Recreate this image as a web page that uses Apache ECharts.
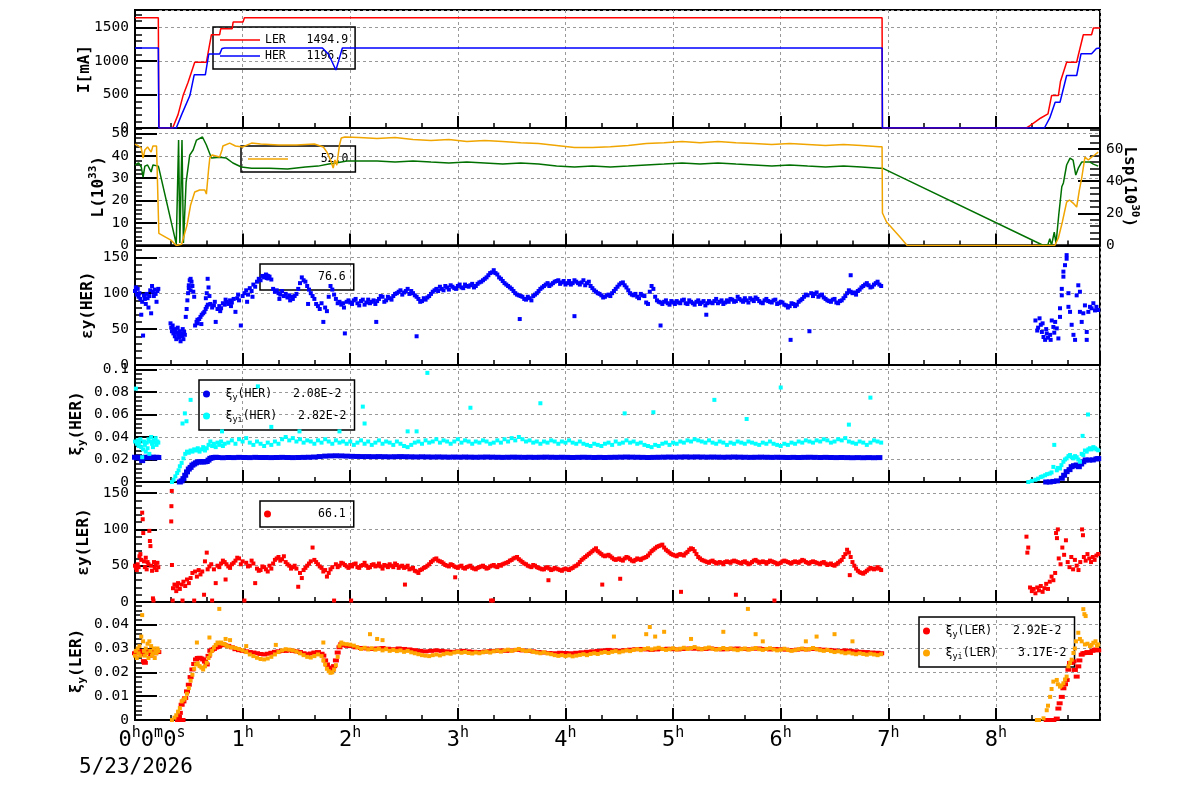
<!DOCTYPE html>
<html>
<head>
<meta charset="utf-8">
<script src="https://cdn.jsdelivr.net/npm/echarts/dist/echarts.min.js"></script>
<style>
html, body { margin: 0; padding: 0; background: #fff; }
#main { width: 1200px; height: 798px; }
</style>
</head>
<body>
<div id="main"></div>
<script>
// time in minutes since 0h0m0s
var dateLabel = '5/23/2026';
var hourTicks = [0, 60, 120, 180, 240, 300, 360, 420, 480];

// beam currents [mA]
var curLER = [[0,1650],[13,1650],[13.2,600],[13.4,0],[21,0],[24,200],[26.8,485],[29.6,685],[33.3,985],[39.8,985],[40.5,1085],[42.6,1395],[47.2,1395],[47.8,1485],[54.2,1485],[54.7,1585],[60.2,1585],[61,1650],[416.5,1650],[416.7,0],[497,0],[499,35],[505,150],[509,210],[511,485],[514.8,485],[516,700],[519.4,985],[525,985],[526,1100],[528.7,1395],[533.3,1395],[534.3,1495],[538,1495]];
var curHER = [[0,1197],[13,1197],[13.3,0],[23,0],[26,200],[30.6,485],[33,795],[39.2,795],[41.1,1105],[47.2,1105],[48.5,1190],[50,1197],[104.5,1197],[108,1100],[112,868],[113.5,1000],[115.6,1197],[416.5,1197],[416.7,0],[507,0],[510,150],[513,385],[515.7,385],[519.4,785],[525,785],[527.4,1110],[533.3,1110],[536,1190],[538,1196.5]];

// luminosity L [1e33] and specific luminosity Lsp [1e30]
var lumi = [[0,35.9],[2,36.8],[3.5,35],[4.5,30.5],[5.5,35.4],[7,35.9],[9,32.8],[10,35.9],[13,35.4],[13.3,34.5],[23,0.7],[24.3,47],[25,1.1],[26.2,47],[27,1.1],[28.5,28.3],[30.5,40.3],[32.4,42.6],[34.3,47],[37.6,48.4],[39.8,44.8],[42.6,39],[47.2,39.4],[50.9,39],[54.6,36.8],[59.3,35],[65,34.5],[75,34.5],[85,34.1],[95,35],[102,35.4],[108,36.3],[112,36.8],[118,37.7],[125,37.7],[135,37.7],[145,37.2],[155,37.7],[165,37.2],[175,36.8],[185,37.2],[195,36.8],[205,36.3],[215,36.8],[225,36.3],[235,35.4],[245,35],[255,35.4],[265,35],[275,35.4],[285,35.9],[295,36.3],[305,36.8],[315,36.3],[325,36.8],[335,36.3],[345,35.9],[355,35.4],[365,35.9],[375,35.4],[385,35],[395,35.4],[405,35],[415,34.5],[416.7,34.5],[506.5,0],[509,0.5],[510,3],[511,0.2],[512.5,6],[513.5,1],[515,13.6],[516.7,26.2],[517.6,27.9],[519.4,35.9],[521.3,39],[523,38.1],[524.5,31.4],[525.9,34.5],[527.8,37.2],[529.6,37.2],[532.4,37.2],[534.3,36.3],[537,35.4]];
var lumiSp = [[0,63.1],[2,61.9],[3.5,60.6],[4.5,54.4],[5.5,59.4],[7,61.3],[9,58.1],[10,61.9],[12,61.9],[13,61.3],[13.3,7.6],[20,3.4],[23,0],[26,0.8],[27,1.6],[29,12.7],[31,25.2],[33.3,33.3],[36,34.5],[38.9,34.5],[39.8,32],[41,47],[41.7,54.4],[43,56.3],[47.2,55],[48.5,59.4],[49,61.9],[52.8,63.7],[56,61.9],[60,61.3],[65,63.7],[70,63.1],[80,62.5],[90,62.5],[100,63.1],[105,61.3],[107,58.1],[109,53.2],[110.5,48.2],[111.5,53.2],[112.5,50],[114,62.5],[115,66.9],[117,67.5],[125,67.2],[135,66.6],[145,67.2],[155,66],[165,65.3],[175,65.9],[185,64.7],[195,65.3],[205,64.7],[215,64],[225,63.4],[235,62.2],[245,61],[255,60.9],[265,61.5],[275,62.2],[285,63.4],[295,64],[305,64.7],[315,64],[325,64.7],[335,64],[345,63.4],[355,62.8],[365,63.4],[375,62.8],[385,62.2],[395,62.8],[405,62.2],[415,61.5],[416.5,61.5],[416.7,20.2],[419,14.6],[422,10.9],[426,5.9],[430.5,0],[512.8,0],[514.8,4.7],[517,14.6],[519.4,27],[521,28.3],[523,26.4],[525,23.9],[526.5,34.5],[527.8,42],[529.6,55],[531.5,53.2],[533.3,55],[535,56.3],[537,58.1]];

// vertical emittance HER
var emitHER = [[0,103],[0.5,108],[1,98],[1.5,106],[2,95],[2.5,100],[3,92],[3.5,70],[4,88],[4.5,41],[5,97],[5.5,92],[6,85],[6.5,99],[7,93],[7.5,80],[8,96],[8.5,104],[9,72],[9.5,110],[10,102],[10.5,96],[11,105],[11.5,99],[12,88],[12.5,103],[13,106],
[19.8,58],[20.2,52],[20.6,47],[21,55],[21.4,44],[21.8,50],[22.2,40],[22.6,48],[23,36],[23.4,45],[23.8,52],[24.2,42],[24.6,38],[25,47],[25.4,33],[25.8,44],[26.2,40],[26.6,50],[27,36],[27.4,46],[27.8,42],
[28.3,67],[28.8,78],[29.2,90],[29.6,100],[30,111],[30.5,118],[31,120],[31.5,116],[32,110],[32.5,102],[33,95],[30,107],[31,104],
[33.5,55],[34.3,60],[35,58],[35.8,64],[36.5,67],[37.2,70],[38,72],[38.7,74],[39.4,78],[40,81],[40.6,84],[39.5,93],[40,100],[40.5,120],[41,108],[41.5,96],[37,57],[34.8,63],
[42,85],[43,80],[44,83],[45,60],[46,78],[47,82],[48,79],[49,86],[50,84],[51,88],[52,85],[53,90],[54,87],[55,92],[56,74],[57,93],[58,90],[59,55],[60,96],[44.5,88],[47.5,75],[50.5,91],[53.5,82],[57.5,98],
[61,100],[62,104],[63,98],[64,107],[65,103],[66,112],[67,109],[68,116],[69,120],[70,118],[62.5,88],[65.5,95],
[71,124],[72,122],[73,126],[74,121],[75,123],[76,119],
[77,106],[78,102],[79,104],[80,100],[81,98],[82,103],[83,96],[84,99],[85,94],[86,97],[87,95],[88,92],[89,96],[90,99],[80.5,92],[86.5,90],
[91,106],[92,114],[93,122],[94,118],[95,116],[96,110],[97,105],[98,100],[99,96],[100,92],[96.5,85],
[101,85],[102,82],[103,78],[104,86],[105,60],[106,80],[107,75],
[108,95],[109,110],[110,105],[111,98],[112,92],[113,86],[114,88],[115,84],
[116,86],[117,44],[118,88],[119,90],[120,87],[116.5,80],
[122,90],[124,86],[126,89],[128,84],[130,91],[132,88],[134,85],[134.5,60],
[136,92],[138,95],[140,90],[142,93],[144,96],
[146,100],[148,104],[150,101],[152,106],[154,103],
[156,97],[157,40],[158,92],[160,89],[162,91],[164,96],
[166,102],[168,106],[170,109],[172,104],[174,108],[176,111],[178,107],[180,110],
[182,108],[184,112],[186,109],[188,113],[190,110],[192,115],[194,118],
[196,122],[198,128],[200,132],[202,126],[204,120],
[206,114],[208,110],[210,106],[212,100],[214,97],[214.5,64],
[216,95],[218,91],[220,93],[222,96],[224,100],
[226,106],[228,110],[230,114],[232,112],[234,116],
[236,118],[238,115],[240,112],[242,117],[244,114],[245,68],[246,116],[248,112],[250,118],[252,114],[254,110],
[256,104],[258,100],[260,97],[262,95],[264,98],
[266,100],[268,106],[270,112],[272,115],[274,108],
[276,100],[278,97],[280,95],[282,99],[284,96],
[285,87],[286,85],[287,102],[288,110],[289,106],[290,95],
[292,88],[293,55],[294,85],[296,90],[298,84],[300,87],[302,89],[304,86],[306,91],[308,85],[310,88],[312,84],[314,90],[316,87],[318,83],[318.5,70],[320,89],[322,86],[324,92],[326,88],[328,85],[330,90],
[332,92],[334,88],[336,95],[338,90],[340,93],[342,87],[344,91],[346,94],[348,89],[350,86],[352,92],[354,88],[356,90],[358,85],[360,88],
[362,84],[364,80],[365.5,35],[366,86],[368,82],[370,88],
[372,92],[374,98],[376,47],[377,100],[378,96],[380,101],[382,97],[384,94],
[386,90],[388,88],[390,92],[392,86],[394,90],
[396,96],[398,104],[399,125],[400,100],[402,98],[404,105],
[406,110],[408,114],[410,108],[412,112],[414,116],[416,110],
[121,85],[123,92],[125,83],[127,91],[129,87],[131,86],[133,90],[135,89],[137,96],[139,88],[141,95],[143,91],[145,99],[147,102],[149,98],[151,103],[153,99],[155,100],[157,95],[159,88],[161,93],[163,94],[165,99],[167,104],[169,103],[171,106],[173,110],[175,105],[177,109],[179,106],[181,112],[183,107],[185,110],[187,111],[189,108],[191,113],[193,116],[195,120],[197,125],[199,129],[201,128],[203,122],[205,117],[207,112],[209,108],[211,103],[213,98],[215,96],[217,92],[219,95],[221,90],[223,98],[225,103],[227,108],[229,112],[231,110],[233,114],[235,117],[237,113],[239,117],[241,114],[243,112],[245,118],[247,114],[249,115],[251,111],[253,116],[255,107],[257,102],[259,99],[261,94],[263,97],[265,96],[267,103],[269,109],[271,114],[273,111],[275,104],[277,98],[279,99],[281,93],[283,97],[291,90],[293,87],[295,88],[297,86],[299,89],[301,85],[303,87],[305,90],[307,86],[309,90],[311,86],[313,88],[315,85],[317,89],[319,86],[321,87],[323,89],[325,86],[327,90],[329,87],[331,88],[333,91],[335,89],[337,92],[339,88],[341,90],[343,93],[345,89],[347,92],[349,87],[351,90],[353,89],[355,87],[357,91],[359,86],[361,87],[363,83],[365,82],[367,85],[369,84],[371,90],[373,95],[375,97],[379,99],[381,95],[383,98],[385,92],[387,89],[389,91],[391,87],[393,89],[395,93],[397,100],[399,102],[401,101],[403,103],[405,108],[407,112],[409,111],[411,109],[413,114],[415,112],
[502,62],[503,48],[503.5,52],[504.3,65],[505,56],[505.6,46],[506,58],[506.5,39],[507.4,35],[508,50],[508.3,44],[509,38],[510.2,42],[510.5,35],[511.1,62],[512,53],[512.5,45],[513,60],[513.9,51],[514.8,37],[515.7,67],[515.7,79],[516.7,97],[516.7,106],[517.6,123],[517.6,130],[518.5,139],[519.4,148],[519.4,153],[520.4,100],[520.4,81],[521.3,74],[522.2,56],[523.2,42],[524.1,35],[525,97],[525.9,111],[526.8,102],[526.8,74],[527.8,60],[528.7,72],[529.6,83],[530.6,46],[530.6,35],[531.5,74],[532.4,81],[533.3,79],[534.3,86],[535.2,76],[536,81],[537,76.6]];

// beam-beam parameter HER
var xiHER = [[0,0.022],[1,0.0215],[2,0.022],[3,0.0212],[4,0.019],[5,0.0218],[6,0.022],[7,0.0215],[8,0.022],[9,0.0218],[10,0.022],[11,0.0215],[12,0.022],[13,0.0218],
[25,0],[26,0.001],[27,0.003],[28,0.006],[29,0.009],[30,0.0115],[31,0.013],[32,0.015],[33,0.016],[34,0.017],[35,0.0178],[36,0.018],[37,0.018],[38,0.0178],[39,0.018],[40,0.0182],[41,0.0195],[42,0.021],[43,0.0215],[44,0.0218],[45,0.022],
[46,0.0218],[49,0.0216],[52,0.0218],[55,0.0217],[58,0.0219],[61,0.0218],[64,0.0217],[67,0.0219],[70,0.0218],[73,0.0218],[76,0.0217],[79,0.0218],[82,0.0219],[85,0.0218],[88,0.0217],[91,0.0218],[94,0.0219],[97,0.022],[100,0.0222],[103,0.0226],[106,0.023],[109,0.0232],[112,0.0233],[115,0.0232],[118,0.023],[121,0.0228],[124,0.0227],[127,0.0226],[130,0.0226],[133,0.0225],[136,0.0226],[139,0.0225],[142,0.0224],[145,0.0225],[148,0.0226],[151,0.0225],[154,0.0224],[157,0.0223],[160,0.0224],[163,0.0223],[166,0.0222],[169,0.0223],[172,0.0222],[175,0.0221],[178,0.0222],[181,0.0221],[184,0.0222],[187,0.0221],[190,0.022],[193,0.0221],[196,0.0222],[199,0.0221],[202,0.022],[205,0.0219],[208,0.022],[211,0.0221],[214,0.022],[217,0.0219],[220,0.022],[223,0.0219],[226,0.022],[229,0.0221],[232,0.022],[235,0.0219],[238,0.022],[241,0.0219],[244,0.0218],[247,0.0219],[250,0.022],[253,0.0219],[256,0.0218],[259,0.0219],[262,0.0218],[265,0.0219],[268,0.022],[271,0.0221],[274,0.0222],[277,0.0221],[280,0.022],[283,0.0219],[286,0.0218],[289,0.0219],[292,0.022],[295,0.0221],[298,0.0222],[301,0.0221],[304,0.0222],[307,0.0223],[310,0.0222],[313,0.0223],[316,0.0222],[319,0.0221],[322,0.0222],[325,0.0221],[328,0.022],[331,0.0221],[334,0.0222],[337,0.0221],[340,0.022],[343,0.0219],[346,0.022],[349,0.0221],[352,0.022],[355,0.0219],[358,0.022],[361,0.0219],[364,0.0218],[367,0.0219],[370,0.0218],[373,0.0219],[376,0.022],[379,0.0219],[382,0.0218],[385,0.0219],[388,0.0218],[391,0.0217],[394,0.0218],[397,0.0217],[400,0.0216],[403,0.0217],[406,0.0216],[409,0.0217],[412,0.0216],[415,0.0217],
[508,0],[510,0],[512,0.0005],[514,0.001],[516.7,0.0033],[518,0.006],[519.4,0.0092],[521,0.011],[522.2,0.0136],[523.5,0.0145],[525,0.0151],[526.2,0.0136],[527.5,0.016],[528.7,0.018],[530,0.0196],[532,0.0195],[534,0.0196],[536,0.0205],[537,0.0208]];
var xiiHER = [[0,0.036],[0.5,0.083],[1,0.034],[1.5,0.037],[2,0.032],[2.5,0.035],[3,0.038],[3.5,0.031],[4,0.022],[4.5,0.029],[5,0.036],[5.5,0.033],[6,0.027],[6.5,0.035],[7,0.03],[7.5,0.038],[8,0.025],[8.5,0.036],[9,0.04],[9.5,0.034],[10,0.031],[10.5,0.037],[11,0.035],[11.5,0.039],[12,0.033],[12.5,0.036],[13,0.035],
[20.6,0],[21.5,0.002],[22.5,0.005],[23.5,0.008],[24.3,0.0104],[25,0.014],[26,0.017],[27,0.021],[28,0.025],[29,0.027],[30,0.026],[31,0.028],[32,0.027],[33,0.029],[34,0.028],[35,0.03],[36,0.027],[37,0.029],[38,0.031],[39,0.028],[40,0.03],[41,0.033],[42,0.036],[43,0.032],[44,0.034],[45,0.031],[46,0.035],[47,0.033],[48,0.036],[49,0.032],[50,0.034],
[26.5,0.052],[27.8,0.061],[31,0.073],[28.7,0.054],[48.5,0.045],[68.5,0.085],[76,0.049],[91.7,0.045],[114,0.045],[127,0.067],[128,0.052],[163,0.097],[152,0.045],[157,0.045],[226,0.07],[273,0.061],[289,0.062],[323,0.073],[360,0.084],[410,0.075],[187,0.066],[341,0.056],[398,0.051],
[52,0.035],[54,0.037],[56,0.034],[58,0.038],[60,0.036],[62,0.039],[64,0.035],[66,0.033],[68,0.036],[70,0.034],[72,0.032],[74,0.035],[76,0.033],[78,0.036],[80,0.034],[82,0.038],[84,0.04],[86,0.037],[88,0.039],[90,0.036],[92,0.038],[94,0.035],[96,0.037],[98,0.036],[100,0.034],[102,0.037],[104,0.035],[106,0.038],[108,0.036],[110,0.034],[112,0.037],[114,0.035],[116,0.036],[118,0.034],[120,0.036],[122,0.033],[124,0.035],[126,0.037],[128,0.034],[130,0.036],[132,0.033],[134,0.035],[136,0.037],[138,0.034],[140,0.036],[142,0.035],[144,0.033],[146,0.036],[148,0.034],[150,0.032],[152,0.031],[154,0.033],[156,0.035],[158,0.036],[160,0.034],[162,0.037],[164,0.035],[166,0.036],[168,0.038],[170,0.035],[172,0.037],[174,0.036],[176,0.034],[178,0.036],[180,0.038],[182,0.035],[184,0.037],[186,0.036],[188,0.034],[190,0.036],[192,0.035],[194,0.037],[196,0.036],[198,0.034],[200,0.035],[202,0.037],[204,0.035],[206,0.038],[208,0.036],[210,0.039],[212,0.037],[214,0.04],[216,0.038],[218,0.036],[220,0.037],[222,0.035],[224,0.036],[226,0.034],[228,0.036],[230,0.035],[232,0.037],[234,0.036],[236,0.034],[238,0.036],[240,0.035],[242,0.037],[244,0.035],[246,0.034],[248,0.036],[250,0.034],[252,0.033],[254,0.032],[256,0.034],[258,0.033],[260,0.032],[262,0.034],[264,0.035],[266,0.033],[268,0.036],[270,0.034],[272,0.035],[274,0.037],[276,0.035],[278,0.036],[280,0.034],[282,0.035],[284,0.033],[286,0.032],[288,0.031],[290,0.033],[292,0.032],[294,0.034],[296,0.035],[298,0.033],[300,0.035],[302,0.034],[304,0.036],[306,0.035],[308,0.037],[310,0.036],[312,0.038],[314,0.037],[316,0.036],[318,0.035],[320,0.037],[322,0.035],[324,0.034],[326,0.036],[328,0.035],[330,0.033],[332,0.035],[334,0.034],[336,0.036],[338,0.035],[340,0.034],[342,0.036],[344,0.035],[346,0.034],[348,0.033],[350,0.035],[352,0.034],[354,0.036],[356,0.034],[358,0.033],[360,0.032],[362,0.034],[364,0.033],[366,0.035],[368,0.034],[370,0.036],[372,0.035],[374,0.037],[376,0.036],[378,0.035],[380,0.037],[382,0.036],[384,0.038],[386,0.037],[388,0.035],[390,0.036],[392,0.038],[394,0.037],[396,0.039],[398,0.036],[400,0.035],[402,0.034],[404,0.036],[406,0.035],[408,0.033],[410,0.035],[412,0.037],[414,0.036],[416,0.035],
[498,0],[500,0.001],[502,0.002],[503.5,0.003],[505,0.0045],[506,0.005],[507.4,0.006],[508.5,0.007],[510,0.0075],[511,0.0085],[512,0.0134],[512.5,0.033],[513.9,0.0104],[514.5,0.0125],[515.7,0.012],[516.5,0.015],[517.6,0.018],[518.5,0.02],[519.4,0.021],[520.4,0.023],[521.3,0.024],[522.2,0.022],[523.2,0.021],[524.1,0.023],[525,0.022],[525.9,0.02],[526.8,0.018],[527.8,0.025],[528.3,0.041],[528.7,0.024],[529.6,0.028],[530.6,0.027],[531.3,0.06],[531.5,0.029],[532.4,0.03],[533.3,0.029],[534.3,0.031],[535.2,0.03],[536,0.029],[537,0.0282]];

// vertical emittance LER
var emitLER = [[0,50],[0.5,47],[1,44],[1.5,52],[2,48],[2.5,63],[3,66],[3.5,58],[4,123],[4.3,114],[4.6,95],[5,56],[5.5,48],[6,61],[6.5,45],[7,55],[7.5,52],[8,98],[8.3,84],[8.6,77],[9,50],[9.5,43],[10,5],[10.3,2],[10.6,55],[11,47],[11.5,51],[12,44],[12.5,54],[13,48],
[20.5,153],[20.3,132],[20.2,111],[20.6,51],[21,2],[21.2,19],[22,24],[23,15],[23.5,21],[24,26],[25,18],[26,24],[26.5,2],[27,28],[28,22],[29,31],[30,26],[31,33],
[32,40],[33,2],[33.5,42],[34.5,35],[35.5,44],[36.5,38],[37.5,42],[38.5,10],[39,56],[40,68],[40.5,45],[41.5,49],[42.5,52],[43,2],[44,45],[45,26],
[46,50],[48,53],[50,55],[50.5,31],[52,49],[54,52],[56,57],[58,60],[60,56],[61,2],[62,54],[64,50],[66,53],[67,26],[68,46],[70,44],[72,48],[74,42],[76,46],[78,58],[80,62],[82,59],[84,55],[86,50],[88,48],[90,46],[91,21],[92,40],[93,33],[94,44],[96,50],[98,56],[99,75],[100,58],[102,52],[104,47],[106,44],[107,35],[108,40],[110,48],[111,2],[112,52],[114,50],[116,53],[118,49],[120,51],[120.5,2],
[47,48],[49,57],[51,52],[53,47],[55,54],[57,61],[59,52],[63,49],[65,57],[69,43],[71,49],[73,45],[75,50],[77,53],[79,60],[81,57],[83,63],[85,52],[87,46],[89,50],[95,47],[97,53],[101,55],[103,49],[105,42],[109,45],[113,48],[115,54],[117,51],[119,47],
[122,52],[124,48],[126,50],[128,54],[130,47],[132,51],[134,49],[136,53],[138,46],[140,50],[142,52],[144,48],[146,51],[148,49],[150,47],[150.5,24],[152,50],[154,46],[156,43],[158,40],[160,45],[162,48],[164,52],[166,57],[168,60],[170,56],[172,53],[174,50],[176,52],[178,49],[178.5,34],[180,47],[182,50],[184,46],[186,49],[188,47],[190,45],[192,48],[194,50],[196,46],[198,49],[198.5,2],[199.5,2],[200,51],[202,48],[204,50],[206,53],[208,55],[210,58],[212,61],[214,59],[216,55],[218,52],[220,49],[222,51],[224,48],[226,46],[228,45],[230,48],[230.5,30],[232,44],[234,47],[236,45],[238,43],[240,46],[242,44],[244,47],[246,50],[248,55],[250,60],[252,64],[254,68],[256,72],[258,70],[260,66],[260.5,24],[262,63],[264,65],[266,61],[268,58],[270,60],[270.5,32],[272,57],[274,62],[276,59],[278,56],[280,60],[282,58],[284,61],[286,64],[288,70],[290,74],[292,77],[294,79],[296,72],[298,68],[300,65],[302,63],[304,66],[304.4,14],[306,64],[308,69],[310,74],[312,70],[314,62],[316,58],[318,56],[320,54],[322,57],[324,53],[326,55],[328,52],[330,56],[332,54],[334,57],[335,10],[336,55],[338,53],[340,56],[342,52],[344,55],[346,58],[348,54],[350,56],[352,53],[354,57],[356,55],[356.5,2],[358,52],[360,54],[362,57],[364,55],[366,53],[368,56],[370,54],[372,58],[374,55],[376,53],[378,56],[380,54],[382,52],[384,55],[386,51],[388,53],[390,50],[392,54],[394,58],[396,66],[397,72],[398,68],[398.5,37],[400,55],[402,46],[404,41],[406,39],[408,43],[410,47],[412,45],[414,48],[416,44],
[121,49],[123,53],[125,47],[127,51],[129,50],[131,48],[133,52],[135,50],[137,49],[139,51],[141,48],[143,50],[145,53],[147,47],[149,50],[151,48],[153,45],[155,47],[157,42],[159,44],[161,47],[163,50],[165,55],[167,59],[169,57],[171,55],[173,51],[175,49],[177,51],[179,48],[181,49],[183,47],[185,48],[187,50],[189,46],[191,47],[193,49],[195,48],[197,47],[199,50],[201,49],[203,51],[205,52],[207,54],[209,57],[211,60],[213,62],[215,57],[217,53],[219,50],[221,48],[223,50],[225,47],[227,45],[229,47],[231,46],[233,45],[235,46],[237,44],[239,45],[241,45],[243,46],[245,49],[247,52],[249,58],[251,62],[253,66],[255,70],[257,74],[259,68],[261,64],[263,64],[265,63],[267,59],[269,59],[271,58],[273,60],[275,61],[277,57],[279,58],[281,59],[283,60],[285,62],[287,67],[289,72],[291,76],[293,78],[295,75],[297,70],[299,66],[301,64],[303,65],[305,65],[307,67],[309,72],[311,73],[313,66],[315,60],[317,57],[319,55],[321,56],[323,55],[325,54],[327,54],[329,55],[331,55],[333,56],[335,56],[337,54],[339,55],[341,54],[343,53],[345,57],[347,56],[349,55],[351,55],[353,55],[355,56],[357,54],[359,53],[361,56],[363,56],[365,54],[367,55],[369,55],[371,56],[373,57],[375,54],[377,55],[379,55],[381,53],[383,54],[385,53],[387,52],[389,51],[391,52],[393,56],[395,62],[399,62],[401,50],[403,43],[405,40],[407,41],[409,45],[411,46],[413,46],[415,46],
[497,90],[497.5,68],[498,75],[499,20],[500,15],[501,18],[502,12],[503,20],[504,16],[505,22],[506,14],[507,19],[508,25],[509,18],[510,28],[511,35],[512,30],[513,40],[513.5,95],[514,88],[514.5,100],[515,60],[516,52],[517,75],[518,65],[519,85],[520,55],[521,48],[522,62],[523,45],[524,58],[525,50],[526,44],[527,55],[528,100],[528.5,92],[529,62],[530,57],[531,66],[532,60],[533,55],[534,62],[535,58],[536,64],[537,66.1]];

// beam-beam parameter LER
var xiLER = [[0,0.028],[1,0.0285],[2,0.028],[3,0.029],[4,0.0275],[5,0.0247],[5.5,0.024],[6,0.028],[7,0.0285],[8,0.029],[9,0.027],[10,0.0285],[11,0.028],[12,0.029],[13,0.0285],
[24,0],[24.5,0.0014],[25,0.003],[26,0.0064],[26.5,0],[27,0.0078],[28,0.0092],[29,0.012],[30,0.0148],[31,0.018],[32,0.0212],[33,0.0235],[34,0.0254],[35,0.026],[36,0.0261],[37,0.0258],[38,0.0254],[39,0.0245],[40,0.0233],[41,0.0269],[42,0.029],[43,0.0295],[44,0.0298],[45,0.0304],[46,0.0306],[47,0.031],[48,0.0315],[49,0.0318],[50,0.0314],[52,0.0311],[54,0.0305],[56,0.0297],[58,0.0293],[60,0.029],[62,0.0288],[64,0.0285],[66,0.0283],[68,0.028],[70,0.0277],[72,0.0275],[74,0.0278],[76,0.0282],[78,0.0286],[80,0.0288],[82,0.029],[84,0.029],[86,0.0292],[88,0.029],[90,0.0288],[92,0.0285],[94,0.028],[96,0.0276],[98,0.0279],[100,0.0283],[102,0.0285],[104,0.0278],[105,0.027],[106,0.025],[107,0.0233],[108,0.022],[109,0.0205],[110,0.021],[111,0.0226],[112,0.025],[113,0.0283],[114,0.0305],[115,0.0318],[116,0.0315],[118,0.0311],[120,0.031],
[123,0.0305],[126,0.0302],[129,0.03],[132,0.0298],[135,0.03],[138,0.0302],[141,0.0299],[144,0.0297],[147,0.03],[150,0.0298],[153,0.0296],[156,0.0293],[159,0.029],[162,0.0288],[165,0.029],[168,0.0292],[171,0.029],[174,0.0288],[177,0.0286],[180,0.0288],[183,0.029],[186,0.0288],[189,0.0286],[192,0.0285],[195,0.0287],[198,0.0289],[201,0.029],[204,0.0292],[207,0.029],[210,0.0292],[213,0.0294],[216,0.0292],[219,0.029],[222,0.0288],[225,0.0285],[228,0.0283],[231,0.0281],[234,0.028],[237,0.0282],[240,0.0281],[243,0.028],[246,0.0282],[249,0.0284],[252,0.0286],[255,0.0288],[258,0.029],[261,0.0292],[264,0.0294],[267,0.0292],[270,0.0291],[273,0.0293],[276,0.0295],[279,0.0297],[282,0.0298],[285,0.0296],[288,0.0294],[291,0.0296],[294,0.0298],[297,0.0299],[300,0.0297],[303,0.0296],[306,0.0298],[309,0.03],[312,0.0299],[315,0.0297],[318,0.0298],[321,0.03],[324,0.0298],[327,0.0296],[330,0.0297],[333,0.0299],[336,0.03],[339,0.0298],[342,0.0297],[345,0.0299],[348,0.03],[351,0.0298],[354,0.0296],[357,0.0298],[360,0.0297],[363,0.0295],[366,0.0293],[369,0.0295],[372,0.0297],[375,0.0296],[378,0.0298],[381,0.0297],[384,0.0295],[387,0.0294],[390,0.0292],[393,0.029],[396,0.0292],[399,0.029],[402,0.0288],[405,0.0286],[408,0.0285],[411,0.0283],[414,0.0282],[416,0.028],
[508.3,0],[510,0],[512,0],[513.9,0.0006],[514.8,0.0048],[515.5,0.007],[516.7,0.0097],[517.6,0.0133],[518.5,0.015],[519.4,0.0168],[520.4,0.0211],[521.3,0.0239],[522.2,0.024],[523.2,0.0246],[524,0.021],[525,0.0182],[525.9,0.0225],[526.5,0.025],[527.8,0.0274],[528.7,0.028],[529.6,0.0281],[531,0.0285],[532.4,0.0281],[533.8,0.029],[535.2,0.0295],[536,0.0295],[537,0.0292]];
var xiiLER = [[0,0.027],[0.5,0.029],[1,0.026],[1.5,0.03],[2,0.028],[2.5,0.031],[3,0.027],[3.5,0.035],[4,0.044],[4.5,0.033],[5,0.029],[5.5,0.027],[6,0.03],[6.5,0.028],[7,0.032],[7.5,0.026],[8,0.033],[8.5,0.029],[9,0.031],[9.5,0.027],[10,0.028],[10.5,0.03],[11,0.026],[11.5,0.029],[12,0.028],[12.5,0.03],[13,0.029],
[20.6,0],[22,0.001],[23,0.002],[24,0.0035],[25,0.005],[26,0.0078],[27,0.0085],[28,0.0092],[29,0.011],[30,0.0134],[31,0.0165],[32,0.019],[33,0.0215],[34,0.0233],[35,0.0238],[36,0.0226],[37,0.022],[38,0.0212],[39,0.0225],[40,0.024],[41,0.026],[42,0.0275],[43,0.029],[44,0.0304],[45,0.0315],[46,0.0325],[47,0.0322],[48,0.0325],[49,0.032],[50,0.0318],[51,0.0312],[52,0.0308],[54,0.0305],[56,0.0302],[58,0.0298],[60,0.0292],[62,0.0285],[64,0.0275],[66,0.0268],[68,0.0261],[70,0.0256],[72,0.0254],[74,0.0258],[76,0.0265],[78,0.0275],[80,0.0285],[82,0.0292],[84,0.0297],[86,0.0295],[88,0.0292],[90,0.0287],[92,0.028],[94,0.0272],[96,0.0265],[98,0.0262],[100,0.0268],[102,0.0275],[104,0.0268],[105,0.025],[106,0.0233],[107,0.0215],[108,0.0205],[109,0.0198],[110,0.02],[111,0.0212],[112,0.023],[113,0.0265],[114,0.0311],[115,0.0325],[116,0.032],[118,0.0318],[120,0.0316],
[47,0.0466],[34.5,0.0325],[41.5,0.0346],[105,0.0325],[131,0.036],[135,0.034],[138,0.0335],[78.5,0.0315],[62,0.031],[50.5,0.034],[53,0.0335],[267,0.035],[287,0.039],[285,0.036],[290,0.035],[295,0.037],[310,0.034],[328,0.037],[341.7,0.0466],[346,0.036],[350,0.033],[374,0.033],[380,0.035],[390,0.036],[400,0.033],
[122,0.0312],[124,0.0305],[126,0.0298],[128,0.0303],[130,0.0296],[132,0.0301],[134,0.0295],[136,0.0299],[138,0.0292],[140,0.0297],[142,0.029],[144,0.0294],[146,0.0289],[148,0.0292],[150,0.0286],[152,0.029],[154,0.0284],[156,0.028],[158,0.0276],[160,0.0272],[162,0.027],[164,0.0268],[166,0.0272],[168,0.0275],[170,0.0271],[172,0.0276],[174,0.028],[176,0.0278],[178,0.0283],[180,0.0286],[182,0.0282],[184,0.0285],[186,0.0281],[188,0.0279],[190,0.0283],[192,0.028],[194,0.0284],[196,0.0287],[198,0.0283],[200,0.0288],[202,0.0291],[204,0.0287],[206,0.0292],[208,0.0295],[210,0.029],[212,0.0294],[214,0.0298],[216,0.0293],[218,0.0289],[220,0.0291],[222,0.0286],[224,0.0283],[226,0.028],[228,0.0284],[230,0.0279],[232,0.0276],[234,0.0272],[236,0.0269],[238,0.0272],[240,0.0268],[242,0.0271],[244,0.0267],[246,0.027],[248,0.0273],[250,0.0276],[252,0.0272],[254,0.0277],[256,0.028],[258,0.0277],[260,0.0282],[262,0.0285],[264,0.0281],[266,0.0286],[268,0.0289],[270,0.0284],[272,0.0288],[274,0.0292],[276,0.0289],[278,0.0294],[280,0.0297],[282,0.0293],[284,0.0298],[286,0.0301],[288,0.0296],[290,0.03],[292,0.0303],[294,0.0298],[296,0.0294],[298,0.0297],[300,0.0301],[302,0.0296],[304,0.0299],[306,0.0303],[308,0.0298],[310,0.0302],[312,0.0306],[314,0.03],[316,0.0297],[318,0.0301],[320,0.0304],[322,0.0299],[324,0.0295],[326,0.0298],[328,0.0302],[330,0.0297],[332,0.03],[334,0.0296],[336,0.0293],[338,0.0297],[340,0.03],[342,0.0295],[344,0.0298],[346,0.0302],[348,0.0297],[350,0.0294],[352,0.0298],[354,0.0301],[356,0.0296],[358,0.0292],[360,0.0295],[362,0.0299],[364,0.0294],[366,0.029],[368,0.0293],[370,0.0297],[372,0.03],[374,0.0295],[376,0.0298],[378,0.0302],[380,0.0297],[382,0.0293],[384,0.029],[386,0.0294],[388,0.0289],[390,0.0285],[392,0.0288],[394,0.0284],[396,0.028],[398,0.0283],[400,0.0279],[402,0.0276],[404,0.028],[406,0.0277],[408,0.0274],[410,0.0278],[412,0.0275],[414,0.0272],[416,0.0276],
[502.8,0],[504,0],[506.5,0.0007],[508.3,0.0041],[509,0.006],[510.2,0.0097],[511,0.013],[512,0.0161],[513.9,0.0168],[514.5,0.015],[515.7,0.014],[516.5,0.0145],[517.6,0.0154],[518.5,0.017],[519.4,0.0182],[520.4,0.0225],[521.3,0.024],[522.2,0.0253],[523.2,0.0281],[524,0.03],[524.6,0.033],[525.9,0.0366],[526.8,0.034],[527.8,0.033],[528.7,0.0465],[529.3,0.0444],[530,0.0436],[529.6,0.0317],[531,0.032],[532.4,0.031],[533.3,0.0315],[534.3,0.0324],[535.5,0.033],[536.3,0.0312],[537,0.0317]];

// last values shown in the legend boxes
var lastLER = '1494.9', lastHER = '1196.5', lastLsp = '52.0';
var lastEmitHER = '76.6', lastEmitLER = '66.1';
var lastXiHER = '2.08E-2', lastXiiHER = '2.82E-2', lastXiLER = '2.92E-2', lastXiiLER = '3.17E-2';

var FONT = 'DejaVu Sans Mono';
var TMAX = 538;
var panelY = [[10,128],[128,245.5],[245.5,365],[365,482],[482,602],[602,720]];

var myChart = echarts.init(document.getElementById('main'));

var grids = [], xAxes = [];
for (var i = 0; i < panelY.length; i++) {
    grids.push({ left: 135, right: 100, top: panelY[i][0], height: panelY[i][1] - panelY[i][0],
        show: true, borderColor: '#000', borderWidth: 2, backgroundColor: 'transparent', outerBoundsMode: 'none', containLabel: false });
    // major ticks (hours) + labels
    xAxes.push({
        type: 'value', gridIndex: i, position: 'bottom', min: 0, max: TMAX, interval: 60,
        axisLine: { show: true, onZero: false, lineStyle: { color: '#000', width: 2 } },
        axisTick: { show: true, inside: true, length: 12, lineStyle: { color: '#000', width: 2 } },
        splitLine: { show: true, lineStyle: { color: '#999', type: [3, 3], width: 1 } },
        axisLabel: {
            show: i === panelY.length - 1, margin: 6, showMaxLabel: false,
            formatter: function (v) {
                if (hourTicks.indexOf(v) < 0) return '';
                if (v === 0) return '{p| }{n|0}{s|h}{n|0}{s|m}{n|0}{s|s}';
                return '{n|' + (v / 60) + '}{s|h}';
            },
            rich: {
                p: { width: 34 },
                n: { fontFamily: FONT, fontSize: 22, lineHeight: 28, color: '#000' },
                s: { fontFamily: FONT, fontSize: 15, color: '#000', verticalAlign: 'top' }
            }
        }
    });
    // minor ticks every 20 min
    xAxes.push({
        type: 'value', gridIndex: i, position: 'bottom', min: 0, max: TMAX, interval: 20,
        axisLine: { show: false }, axisLabel: { show: false }, splitLine: { show: false },
        axisTick: { show: true, inside: true, length: 5, lineStyle: { color: '#000', width: 1.5 } }
    });
}

var nameStyle = {
    fontFamily: FONT, fontSize: 16, fontWeight: 'bold', color: '#000', lineHeight: 22,
    rich: {
        sup: { fontFamily: FONT, fontSize: 11, fontWeight: 'bold', color: '#000', verticalAlign: 'top' },
        sub: { fontFamily: FONT, fontSize: 11, fontWeight: 'bold', color: '#000', verticalAlign: 'bottom' }
    }
};
function yAx(grid, max, step, name, gap, right) {
    return {
        type: 'value', gridIndex: grid, position: right ? 'right' : 'left', min: 0, max: max, interval: step,
        name: name, nameLocation: 'middle', nameGap: gap, nameRotate: right ? -90 : 90, nameTextStyle: nameStyle,
        nameMoveOverlap: false,
        axisLine: { show: true, onZero: false, lineStyle: { color: '#000', width: 2 } },
        axisTick: { show: true, inside: true, length: 22, lineStyle: { color: '#000', width: 2 } },
        minorTick: { show: true, splitNumber: 5, length: right ? 10 : 7, lineStyle: { color: '#000', width: 1.5 } },
        splitLine: { show: !right, lineStyle: { color: '#999', type: [3, 3], width: 1 } },
        axisLabel: { show: true, margin: 6, showMaxLabel: false, fontFamily: FONT, fontSize: 14.5, color: '#000',
            formatter: function (v) { return String(+v.toFixed(6)); } }
    };
}
var yAxes = [
    yAx(0, 1765, 500, 'I[mA]', 39),
    yAx(1, 52.4, 10, 'L(10{sup|33})', 25),
    yAx(1, 73.1, 20, 'Lsp(10{sup|30})', 18, true),
    yAx(2, 166.4, 50, 'εy(HER)', 36),
    yAx(3, 0.104, 0.02, 'ξ{sub|y}(HER)', 47),
    yAx(4, 165.3, 50, 'εy(LER)', 40),
    yAx(5, 0.0495, 0.01, 'ξ{sub|y}(LER)', 47)
];

function line(name, xi, yi, data, color) {
    return { name: name, type: 'line', xAxisIndex: xi, yAxisIndex: yi, data: data, symbol: 'none', showSymbol: false,
        lineStyle: { color: color, width: 1.5 }, itemStyle: { color: color }, z: 3 };
}
function dots(name, xi, yi, data, color, size) {
    return { name: name, type: 'scatter', xAxisIndex: xi, yAxisIndex: yi, data: data, symbol: 'rect', symbolSize: size,
        itemStyle: { color: color, opacity: 1 }, z: 3 };
}

var legendText = {
    LER: 'LER   ' + lastLER, HER: 'HER   ' + lastHER, Lsp: '    ' + lastLsp,
    emitHER: '      ' + lastEmitHER, emitLER: '      ' + lastEmitLER,
    xiHER: '{g| }ξ{s|y}(HER)   ' + lastXiHER, xiiHER: '{g| }ξ{s|yi}(HER)   ' + lastXiiHER,
    xiLER: '{g| }ξ{s|y}(LER)   ' + lastXiLER, xiiLER: '{g| }ξ{s|yi}(LER)   ' + lastXiiLER
};
function box(names, left, top, pad, opts) {
    var l = {
        data: names, left: left, top: top, orient: 'vertical', padding: pad, itemGap: 4,
        borderColor: '#000', borderWidth: 1.5, backgroundColor: 'transparent', z: 1, selectedMode: false,
        formatter: function (n) { return legendText[n]; },
        itemStyle: { opacity: 1 },
        textStyle: { fontFamily: FONT, fontSize: 11.5, color: '#000', lineHeight: 16,
            rich: { g: { width: 10 }, s: { fontFamily: FONT, fontSize: 8.5, color: '#000', verticalAlign: 'bottom' } } }
    };
    for (var k in opts) l[k] = opts[k];
    return l;
}

var option = {
    animation: false,
    backgroundColor: '#fff',
    title: { text: dateLabel, left: 79, top: 757, padding: 0,
        textStyle: { fontFamily: FONT, fontSize: 21, fontWeight: 'normal', color: '#000' } },
    grid: grids,
    xAxis: xAxes,
    yAxis: yAxes,
    legend: [
        box(['LER', 'HER'], 213, 27, [5, 7, 5, 7], { icon: 'rect', itemWidth: 40, itemHeight: 1.5, itemGap: 0 }),
        box(['Lsp'], 241, 146, [5, 7, 5, 7], { icon: 'rect', itemWidth: 40, itemHeight: 1.5 }),
        box(['emitHER'], 260, 264, [5, 8, 5, 4], { itemWidth: 8, itemHeight: 7, icon: 'circle' }),
        box(['xiHER', 'xiiHER'], 199, 380, [6, 8, 6, 4], { itemWidth: 8, itemHeight: 7, icon: 'circle', itemGap: 6 }),
        box(['emitLER'], 260, 501, [5, 8, 5, 4], { itemWidth: 8, itemHeight: 7, icon: 'circle' }),
        box(['xiLER', 'xiiLER'], 919, 617, [6, 8, 6, 4], { itemWidth: 8, itemHeight: 7, icon: 'circle', itemGap: 6 })
    ],
    series: [
        line('LER', 0, 0, curLER, '#ff0000'),
        line('HER', 0, 0, curHER, '#0000ff'),
        line('L', 2, 1, lumi, '#007000'),
        line('Lsp', 2, 2, lumiSp, '#f0a500'),
        dots('emitHER', 4, 3, emitHER, '#0000ff', 4),
        dots('xiHER', 6, 4, xiHER, '#0000ee', [6, 5]),
        dots('xiiHER', 6, 4, xiiHER, '#00ffff', 4),
        dots('emitLER', 8, 5, emitLER, '#ff0000', 4),
        dots('xiLER', 10, 6, xiLER, '#ff0000', [6, 4]),
        dots('xiiLER', 10, 6, xiiLER, '#ffa500', 4)
    ]
};
myChart.setOption(option);
</script>
</body>
</html>
